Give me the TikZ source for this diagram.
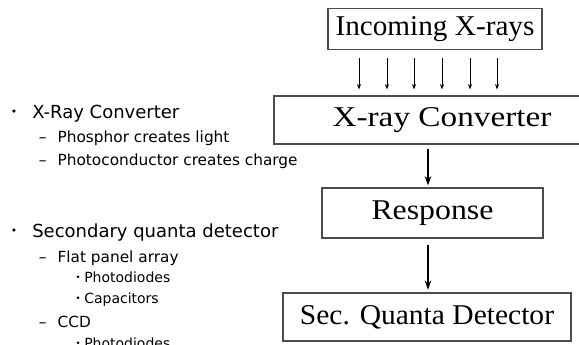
\documentclass[tikz,border=0pt]{standalone}
\usepackage{graphicx}
\usepackage{fontspec}
\setmainfont{Liberation Serif}
\newfontfamily\listfont{DejaVu Sans}
\usetikzlibrary{arrows.meta,calc,positioning}

\newcommand{\wide}[2]{\scalebox{#1}[1]{#2}}

\tikzset{
  stage/.style={draw=black!70,line width=0.9pt,fill=white,inner sep=0pt,
    font=\fontsize{21.5}{24}\selectfont},
  ray/.style={-{Stealth[length=4pt,width=3pt]},line width=0.45pt},
  flow/.style={-{Stealth[length=7pt,width=5pt]},line width=1pt},
  mark1/.style={anchor=base west,inner sep=0pt,xshift=8pt,yshift=2.4pt,
    font=\listfont\fontsize{8}{9}\selectfont},
  mark2/.style={anchor=base west,inner sep=0pt,xshift=29pt,
    font=\listfont\fontsize{11.5}{13}\selectfont},
  mark3/.style={anchor=base west,inner sep=0pt,xshift=56.5pt,yshift=1.8pt,
    font=\listfont\fontsize{6.5}{7}\selectfont},
  item1/.style={anchor=base west,inner sep=0pt,xshift=24pt,
    font=\listfont\fontsize{13.5}{16}\selectfont},
  item2/.style={anchor=base west,inner sep=0pt,xshift=43pt,
    font=\listfont\fontsize{11.5}{13}\selectfont},
  item3/.style={anchor=base west,inner sep=0pt,xshift=63pt,
    font=\listfont\fontsize{10.5}{12}\selectfont},
}

\begin{document}
\begin{tikzpicture}[x=0.75pt,y=-0.75pt]
  \useasboundingbox (0,0) rectangle (579,345);

  % chain of stages
  \node[stage,minimum width=160.5pt,minimum height=30.75pt] (inc) at (435,29) {\wide{1.02}{Incoming X-rays}};
  \node[stage,minimum width=252pt,minimum height=36pt] (conv) at (442,120) {\wide{1.16}{X-ray Converter}};
  \node[stage,minimum width=165.75pt,minimum height=37.5pt] (resp) at (432.5,213) {\wide{1.11}{Response}};
  \node[stage,minimum width=216pt,minimum height=36pt] (sqd) at (427,317) {\wide{1.03}{Sec. Quanta Detector}};

  \foreach \x in {359,387,414,442,470,497}
    \draw[ray,shorten <=6pt,shorten >=4.5pt] (\x,0 |- inc.south) -- (\x,0 |- conv.north);

  \coordinate (col) at (428,0);
  \draw[flow,shorten <=3pt,shorten >=1.5pt] (col |- conv.south) -- (col |- resp.north);
  \draw[flow,shorten <=4.5pt,shorten >=2pt] (col |- resp.south) -- (col |- sqd.north);

  % bullet list
  \foreach \y/\lv/\m/\lab [count=\i] in {
     119/1/{\textbullet}/{X-Ray Converter},
     143/2/{–}/{Phosphor creates light},
     166/2/{–}/{Photoconductor creates charge},
     238/1/{\textbullet}/{Secondary quanta detector},
     263/2/{–}/{Flat panel array},
     283/3/{\textbullet}/{Photodiodes},
     304/3/{\textbullet}/{Capacitors},
     328/2/{–}/{CCD},
     349/3/{\textbullet}/{Photodiodes}}
  { \node[mark\lv] (m\i) at (0,\y) {\m};
    \node[item\lv] (t\i) at (0,\y) {\lab}; }
\end{tikzpicture}
\end{document}
